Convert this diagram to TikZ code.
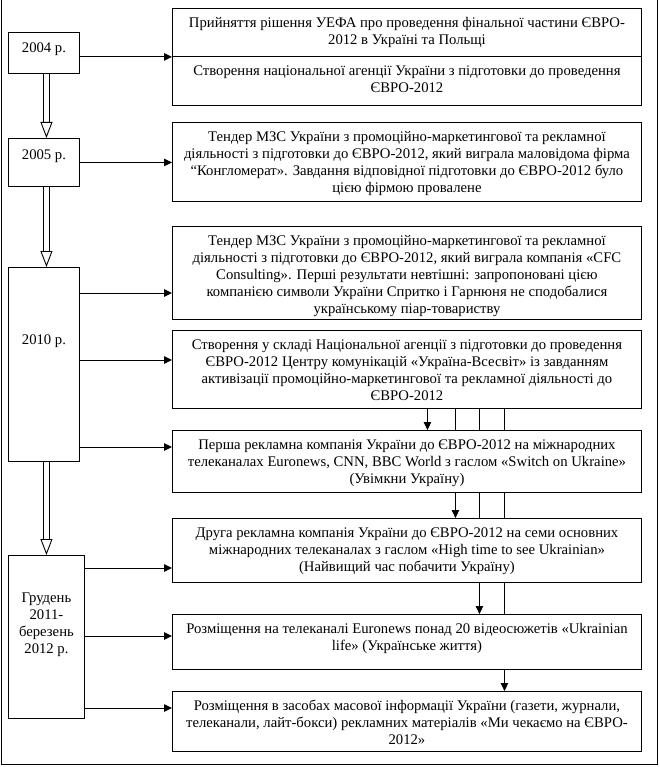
\documentclass[tikz,border=0pt]{standalone}
\usepackage{fontspec}
\setmainfont{Liberation Serif}
\usetikzlibrary{arrows.meta,backgrounds}

% текст у рамці: ширина, висота, перший рядок зверху
\newcommand{\inbox}[4][19pt]{\parbox[c][#3][t]{#2}{\centering\rule{0pt}{#1}#4}}

\begin{document}
\begin{tikzpicture}[x=1pt,y=-1pt,
    font=\fontsize{14.7}{17}\selectfont,
    box/.style={draw, fill=white, inner sep=0pt, anchor=north west, line width=0.9pt},
    arr/.style={line width=0.9pt, -{Triangle[length=8pt,width=7.5pt]}},
    dblarr/.style={double, double distance=4.5pt, line width=0.9pt, -{Triangle[open,length=16pt,width=12pt]}}]
        \useasboundingbox (0,0) rectangle (660,767);

        % --- Роки (ліва колонка) ---
        \node[box] (y2004) at (8,32) {\inbox[20pt]{71pt}{41pt}{2004 р.}};
        \node[box] (y2005) at (8,138) {\inbox[21pt]{71pt}{48pt}{2005 р.}};
        \node[box] (y2010) at (8,267) {\inbox[77pt]{71pt}{194pt}{2010 р.}};
        \node[box] (y2011) at (8,555) {\inbox[47pt]{76pt}{163pt}{Грудень\\2011-\\березень\\2012 р.}};

        % --- Події (права колонка) ---
        \def\ew{469pt}
        \node[box] (e1a) at (172,8) {\inbox{\ew}{48pt}{Прийняття рішення УЕФА про проведення фінальної частини ЄВРО-\\2012 в Україні та Польщі}};
        \node[box] (e1b) at (172,56) {\inbox{\ew}{49pt}{Створення національної агенції України з підготовки до проведення\\ЄВРО-2012}};
        \node[box] (e2) at (172,122) {\inbox{\ew}{79pt}{Тендер МЗС України з промоційно-маркетингової та рекламної\\діяльності з підготовки до ЄВРО-2012, який виграла маловідома фірма\\“Конгломерат». Завдання відповідної підготовки до ЄВРО-2012 було\\цією фірмою провалене}};
        \node[box] (e3) at (172,226) {\inbox{\ew}{93pt}{Тендер МЗС України з промоційно-маркетингової та рекламної\\діяльності з підготовки до ЄВРО-2012, який виграла компанія «CFC\\Consulting». Перші результати невтішні: запропоновані цією\\компанією символи України Спритко і Гарнюня не сподобалися\\українському піар-товариству}};
        \node[box] (e4) at (172,330) {\inbox{\ew}{78pt}{Створення у складі Національної агенції з підготовки до проведення\\ЄВРО-2012 Центру комунікацій «Україна-Всесвіт» із завданням\\активізації промоційно-маркетингової та рекламної діяльності до\\ЄВРО-2012}};
        \node[box] (e5) at (172,430) {\inbox{\ew}{62pt}{Перша рекламна компанія України до ЄВРО-2012 на міжнародних\\телеканалах Euronews, CNN, BBC World з гаслом «Switch on Ukraine»\\(Увімкни Україну)}};
        \node[box] (e6) at (172,518) {\inbox{\ew}{64pt}{Друга рекламна компанія України до ЄВРО-2012 на семи основних\\міжнародних телеканалах з гаслом «High time to see Ukrainian»\\(Найвищий час побачити Україну)}};
        \node[box] (e7) at (172,614) {\inbox{\ew}{55pt}{Розміщення на телеканалі Euronews понад 20 відеосюжетів «Ukrainian\\life» (Українське життя)}};
        \node[box] (e8) at (172,691) {\inbox{\ew}{60pt}{Розміщення в засобах масової інформації України (газети, журнали,\\телеканали, лайт-бокси) рекламних матеріалів «Ми чекаємо на ЄВРО-\\2012»}};

        % Стрілки від років до подій
        \draw[arr] (y2004.east |- e1a.south) -- (e1a.south west);
        \draw[arr] (y2005.east) -- (y2005.east -| e2.west);
        \foreach \t/\h in {e3/293, e4/360, e5/447}
            \draw[arr] (y2010.east |- 0,\h) -- (\t.west |- 0,\h);
        \foreach \t/\h in {e6/568, e7/636, e8/708}
            \draw[arr] (y2011.east |- 0,\h) -- (\t.west |- 0,\h);

        % Подвійні стрілки між роками
        \draw[dblarr] ([xshift=2.5pt]y2004.south) -- ([xshift=2.5pt]y2005.north);
        \draw[dblarr] ([xshift=2.5pt]y2005.south) -- ([xshift=2.5pt]y2010.north);
        \draw[dblarr] ([xshift=2.5pt]y2010.south) -- (y2011.north);

        % Лінії від центру комунікацій (під рамками)
        \begin{scope}[on background layer]
        \foreach \t/\dx in {e5/20.5, e6/48.5, e7/72.5, e8/97.5}
            \draw[arr] ([xshift=\dx pt]e4.south) -- ([xshift=\dx pt]\t.north);
        \end{scope}

        % Рамка
        \draw[line width=1pt] (1,0) -- (1,764) -- (657,764) -- (657,0);
    \end{tikzpicture}
\end{document}
